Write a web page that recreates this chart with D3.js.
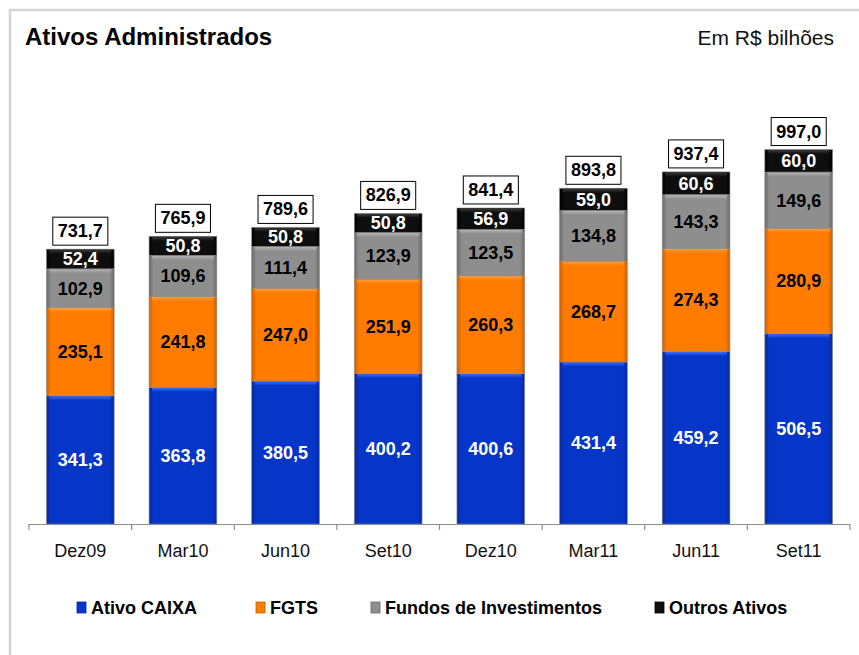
<!DOCTYPE html>
<html><head><meta charset="utf-8">
<script src="https://cdn.jsdelivr.net/npm/d3@7"></script>
<style>
html,body{margin:0;padding:0;background:#fff;}
svg{display:block;font-family:"Liberation Sans",Arial,sans-serif;}
</style></head>
<body>
<svg id="chart" width="859" height="655"></svg>
<script>
const categories = ["Dez09","Mar10","Jun10","Set10","Dez10","Mar11","Jun11","Set11"];
const ativoCaixa = [341.3,363.8,380.5,400.2,400.6,431.4,459.2,506.5];
const fgts = [235.1,241.8,247.0,251.9,260.3,268.7,274.3,280.9];
const fundos = [102.9,109.6,111.4,123.9,123.5,134.8,143.3,149.6];
const outros = [52.4,50.8,50.8,50.8,56.9,59.0,60.6,60.0];
const totals = [731.7,765.9,789.6,826.9,841.4,893.8,937.4,997.0];
const seriesNames = ["Ativo CAIXA","FGTS","Fundos de Investimentos","Outros Ativos"];
const seriesKeys = ["ativo","fgts","fundos","outros"];

const colors = {
  ativo:{base:"#0636c8",light:"#3a6cff",dark:"#032a9e",text:"#ffffff"},
  fgts:{base:"#ff7c00",light:"#ffa040",dark:"#d06000",text:"#000000"},
  fundos:{base:"#8e8e8e",light:"#b4b4b4",dark:"#6a6a6a",text:"#000000"},
  outros:{base:"#0e0e0e",light:"#3a3a3a",dark:"#000000",text:"#ffffff"}
};

const rows = categories.map((c,i)=>({cat:c,ativo:ativoCaixa[i],fgts:fgts[i],fundos:fundos[i],outros:outros[i],total:totals[i]}));
const fmt = d3.formatLocale({decimal:",",thousands:".",grouping:[3],currency:["R$",""]}).format(".1f");

const svg = d3.select("#chart");
const defs = svg.append("defs");
seriesKeys.forEach(k=>{
  const g = defs.append("linearGradient").attr("id","g-"+k).attr("x1","0").attr("x2","1").attr("y1","0").attr("y2","0");
  g.append("stop").attr("offset","0%").attr("stop-color",colors[k].dark);
  g.append("stop").attr("offset","7%").attr("stop-color",colors[k].base);
  g.append("stop").attr("offset","93%").attr("stop-color",colors[k].base);
  g.append("stop").attr("offset","100%").attr("stop-color",colors[k].dark);
  const v = defs.append("linearGradient").attr("id","v-"+k).attr("x1","0").attr("x2","0").attr("y1","0").attr("y2","1");
  v.append("stop").attr("offset","0%").attr("stop-color",colors[k].light);
  v.append("stop").attr("offset","100%").attr("stop-color",colors[k].base);
});

// frame
svg.append("path").attr("d","M10,655 L10,10 L859,10").attr("fill","none").attr("stroke","#d4d4d4").attr("stroke-width",2.5);

// title
svg.append("text").attr("x",25).attr("y",45).attr("font-size",24).attr("font-weight","bold").attr("fill","#000").text("Ativos Administrados");
svg.append("text").attr("x",834).attr("y",45).attr("text-anchor","end").attr("font-size",21).attr("fill","#111").text("Em R$ bilhões");

const x = d3.scaleBand().domain(categories).range([29,850]).paddingInner(0.34).paddingOuter(0.17);
const y = d3.scaleLinear().domain([0,1000]).range([524,148.4]);

const stack = d3.stack().keys(seriesKeys)(rows);

const layers = svg.append("g").selectAll("g").data(stack).join("g");
layers.each(function(layer){
  const k = layer.key;
  const g = d3.select(this);
  const segs = g.selectAll("g").data(layer).join("g");
  segs.append("rect")
    .attr("x",d=>x(d.data.cat)).attr("width",x.bandwidth())
    .attr("y",d=>y(d[1])).attr("height",d=>y(d[0])-y(d[1]))
    .attr("fill","url(#g-"+k+")").attr("stroke","#8a8a8a").attr("stroke-width",0.6);
  segs.append("rect")
    .attr("x",d=>x(d.data.cat)+3).attr("width",x.bandwidth()-6)
    .attr("y",d=>y(d[1])+0.5).attr("height",4)
    .attr("fill","url(#v-"+k+")");
  segs.append("text")
    .attr("x",d=>x(d.data.cat)+x.bandwidth()/2)
    .attr("y",d=>(y(d[0])+y(d[1]))/2)
    .attr("dy","0.36em").attr("text-anchor","middle")
    .attr("font-size",18).attr("font-weight","bold").attr("fill",colors[k].text)
    .text(d=>fmt(d.data[k]));
});

// total boxes
const tg = svg.append("g").selectAll("g").data(rows).join("g");
tg.each(function(d){
  const g = d3.select(this);
  const cx = x(d.cat)+x.bandwidth()/2;
  const bottom = y(d.total)-4;
  const t = g.append("text").attr("x",cx).attr("y",bottom-8).attr("text-anchor","middle")
    .attr("font-size",18).attr("font-weight","bold").attr("fill","#000").text(fmt(d.total));
  const w = t.node().getComputedTextLength()+10;
  g.insert("rect","text").attr("x",cx-w/2).attr("y",bottom-28).attr("width",w).attr("height",28)
    .attr("fill","#fff").attr("stroke","#000").attr("stroke-width",1);
});

// axis
const step = x.step();
const x0 = 29;
svg.append("line").attr("x1",29).attr("x2",850).attr("y1",524.5).attr("y2",524.5).attr("stroke","#8c8c8c").attr("stroke-width",1.2);
svg.append("g").selectAll("line").data(d3.range(categories.length+1)).join("line")
  .attr("x1",i=>x0+i*step).attr("x2",i=>x0+i*step).attr("y1",524).attr("y2",530)
  .attr("stroke","#8c8c8c").attr("stroke-width",1.2);
svg.append("g").selectAll("text").data(categories).join("text")
  .attr("x",c=>x(c)+x.bandwidth()/2).attr("y",557).attr("text-anchor","middle")
  .attr("font-size",18).attr("fill","#111").text(c=>c);

// legend
const legendX = [77,256,371,655];
const lg = svg.append("g").selectAll("g").data(seriesKeys).join("g");
lg.append("rect").attr("x",(k,i)=>legendX[i]).attr("y",602).attr("width",9).attr("height",11)
  .attr("fill",k=>"url(#g-"+k+")").attr("stroke",k=>colors[k].dark).attr("stroke-width",0.8);
lg.append("text").attr("x",(k,i)=>legendX[i]+14).attr("y",614).attr("font-size",18).attr("font-weight","bold")
  .attr("fill","#000").text((k,i)=>seriesNames[i]);
</script>
</body></html>
